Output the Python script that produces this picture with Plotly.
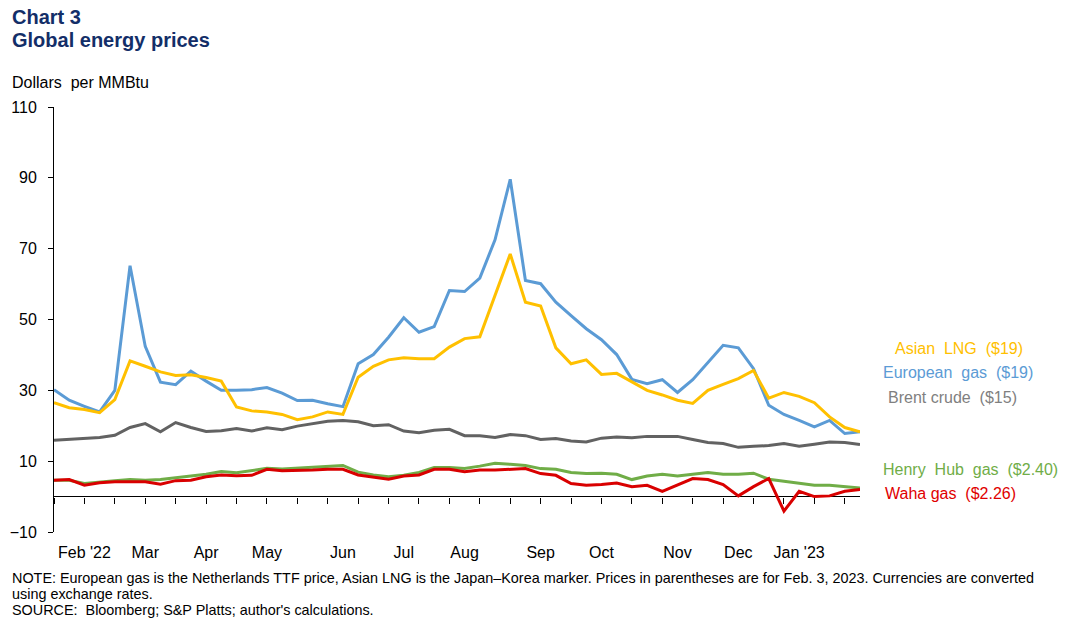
import plotly.graph_objects as go

# Weekly observations (Fridays), Jan 28, 2022 through Feb 3, 2023 -> 54 weeks
weeks = list(range(54))

european_gas = [30.2, 27.2, 25.5, 23.9, 30.0, 65.2, 42.4, 32.3, 31.6, 35.4,
                32.6, 30.0, 30.0, 30.2, 30.8, 29.2, 27.1, 27.2, 26.2, 25.4,
                37.5, 40.1, 45.0, 50.5, 46.4, 48.0, 58.2, 57.9, 61.7, 72.5,
                89.6, 61.0, 60.1, 54.9, 51.1, 47.4, 44.3, 40.1, 33.1, 31.9,
                33.0, 29.4, 33.0, 38.0, 42.7, 42.0, 36.1, 25.8, 23.2, 21.5,
                19.7, 21.5, 17.8, 18.3]
asian_lng = [26.5, 25.1, 24.6, 23.7, 27.4, 38.3, 36.8, 35.2, 34.2, 34.4,
             33.6, 32.6, 25.3, 24.2, 23.9, 23.2, 21.7, 22.5, 23.9, 23.2,
             33.7, 36.8, 38.6, 39.2, 38.9, 38.9, 42.2, 44.6, 45.1, 56.8,
             68.5, 54.9, 53.8, 42.0, 37.5, 38.6, 34.5, 34.8, 32.5, 30.0,
             28.7, 27.2, 26.3, 30.0, 31.7, 33.3, 35.6, 27.8, 29.4, 28.3,
             26.5, 22.5, 19.5, 18.3]
brent_crude = [15.9, 16.2, 16.4, 16.7, 17.3, 19.5, 20.6, 18.3, 20.9, 19.5,
               18.4, 18.6, 19.2, 18.5, 19.4, 18.9, 19.9, 20.7, 21.3, 21.5,
               21.1, 20.0, 20.3, 18.5, 18.0, 18.7, 19.0, 17.2, 17.2, 16.7,
               17.5, 17.2, 16.1, 16.4, 15.7, 15.4, 16.5, 16.8, 16.6, 17.0,
               17.0, 17.0, 16.1, 15.3, 15.0, 13.9, 14.2, 14.4, 15.0, 14.2,
               14.8, 15.4, 15.3, 14.7]
henry_hub = [4.6, 4.6, 3.7, 4.2, 4.5, 4.8, 4.6, 4.8, 5.4, 5.8,
             6.3, 7.1, 6.7, 7.3, 8.0, 7.8, 8.0, 8.4, 8.5, 8.8,
             6.9, 6.1, 5.6, 6.0, 6.8, 8.2, 8.2, 7.9, 8.6, 9.4,
             9.1, 8.8, 7.9, 7.7, 6.8, 6.5, 6.6, 6.3, 4.8, 5.8,
             6.3, 5.8, 6.3, 6.8, 6.3, 6.3, 6.6, 4.9, 4.3, 3.8,
             3.2, 3.2, 2.9, 2.4]
waha = [4.6, 4.8, 3.2, 3.9, 4.2, 4.2, 4.2, 3.5, 4.5, 4.6,
        5.6, 6.1, 5.9, 6.0, 7.7, 7.3, 7.3, 7.5, 7.7, 7.7,
        6.1, 5.4, 4.9, 5.8, 6.1, 7.7, 7.7, 7.0, 7.5, 7.5,
        7.7, 7.9, 6.5, 6.0, 3.7, 3.2, 3.4, 3.8, 2.8, 3.2,
        1.5, 3.2, 5.1, 4.8, 3.4, 0.2, 2.8, 5.1, -4.1, 1.5,
        0.0, 0.2, 1.5, 2.0]

month_tick_idx = [2, 6, 10, 14, 19, 23, 27, 32, 36, 41, 45, 49]
month_labels = ["Feb '22", "Mar", "Apr", "May", "Jun", "Jul", "Aug", "Sep",
                "Oct", "Nov", "Dec", "Jan '23"]
minor_tick_idx = list(range(0, 54, 2))

series = [
    ("Brent crude", brent_crude, "#626262"),
    ("Henry Hub gas", henry_hub, "#70AD47"),
    ("Waha gas", waha, "#D90000"),
    ("European gas", european_gas, "#5B9BD5"),
    ("Asian LNG", asian_lng, "#FFC000"),
]

# right-hand labels: text, y value, colour, left pixel offset from plot edge
labels = [
    ("Asian  LNG  ($19)", 41.8, "#FFC000", 33),
    ("European  gas  ($19)", 35.1, "#5B9BD5", 21),
    ("Brent crude  ($15)", 28.0, "#808080", 26),
    ("Henry  Hub  gas  ($2.40)", 7.7, "#70AD47", 21),
    ("Waha gas  ($2.26)", 0.9, "#E00000", 23),
]

FONT = "Arial, Liberation Sans, sans-serif"
OFF = 8  # page body margin
W, H = 1077 - 2 * OFF, 637 - 2 * OFF
ML, MT = 54 - OFF, 107 - OFF
MR = W - (860 - OFF)
MB = H - (532 - OFF)
PH = H - MT - MB


def py(pix):
    return (H - MB - (pix - OFF)) / PH


LEFT = -(ML - (10 - OFF))

fig = go.Figure()
for name, vals, col in series:
    fig.add_trace(go.Scatter(x=weeks, y=vals, mode="lines", name=name,
                             line=dict(color=col, width=3), showlegend=False))
# helper trace for the tick-mark axis sitting on y = 0
fig.add_trace(go.Scatter(x=[weeks[0], weeks[-1]], y=[None, None], xaxis="x2",
                         showlegend=False, hoverinfo="skip"))

ymin, ymax = -10, 110
fig.update_layout(
    width=W, height=H,
    margin=dict(l=ML, r=MR, t=MT, b=MB, autoexpand=False),
    paper_bgcolor="white", plot_bgcolor="white",
    font=dict(family=FONT, size=16, color="#000000"),
    xaxis=dict(range=[0, 53], tickmode="array", tickvals=month_tick_idx,
               ticktext=month_labels, ticks="outside", ticklen=6,
               tickcolor="rgba(0,0,0,0)", showline=False, showgrid=False,
               zeroline=False, tickfont=dict(size=16)),
    xaxis2=dict(range=[0, 53], overlaying="x", anchor="free",
                position=(0 - ymin) / (ymax - ymin), tickmode="array",
                tickvals=minor_tick_idx, ticks="outside", ticklen=6,
                tickcolor="black", tickwidth=1, showticklabels=False,
                showline=False, showgrid=False, zeroline=False),
    yaxis=dict(range=[ymin, ymax], tickmode="linear", tick0=-10, dtick=20,
               ticks="outside", ticklen=5, tickcolor="black",
               showline=True, linecolor="black", linewidth=1,
               showgrid=False, zeroline=True, zerolinecolor="black",
               zerolinewidth=1, ticklabelstandoff=8,
               tickfont=dict(size=16)),
)

navy = "#132E68"
fig.add_annotation(text="<b>Chart 3</b>", xref="paper", yref="paper",
                   x=0, xshift=LEFT, y=py(17), xanchor="left",
                   yanchor="middle", showarrow=False,
                   font=dict(size=20, color=navy))
fig.add_annotation(text="<b>Global energy prices</b>", xref="paper",
                   yref="paper", x=0, xshift=LEFT, y=py(40),
                   xanchor="left", yanchor="middle", showarrow=False,
                   font=dict(size=20, color=navy))
fig.add_annotation(text="Dollars  per MMBtu", xref="paper", yref="paper",
                   x=0, xshift=LEFT, y=py(82), xanchor="left",
                   yanchor="middle", showarrow=False, font=dict(size=16))

notes = [
    "NOTE: European gas is the Netherlands TTF price, Asian LNG is the Japan\u2013Korea marker. "
    "Prices in parentheses are for Feb. 3, 2023. Currencies are converted",
    "using exchange rates.",
    "SOURCE:  Bloomberg; S&P Platts; author's calculations.",
]
for i, t in enumerate(notes):
    fig.add_annotation(text=t, xref="paper", yref="paper", x=0,
                       xshift=LEFT, y=py(578 + 16 * i), xanchor="left",
                       yanchor="middle", showarrow=False,
                       font=dict(size=14.4))

for text, yv, col, off in labels:
    fig.add_annotation(text=text, xref="paper", yref="y", x=1, y=yv,
                       xshift=off, xanchor="left", yanchor="middle",
                       showarrow=False, font=dict(size=16, color=col))

fig.write_html("out.html")
